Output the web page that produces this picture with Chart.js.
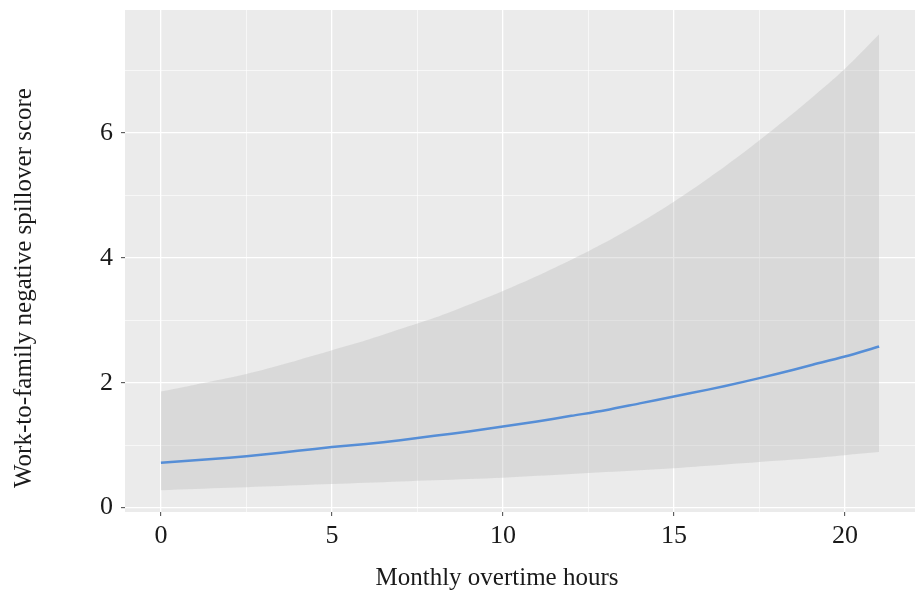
<!DOCTYPE html>
<html>
<head>
<meta charset="utf-8">
<script src="https://cdn.jsdelivr.net/npm/chart.js@4.4.1/dist/chart.umd.min.js"></script>
<style>
  html, body { margin: 0; padding: 0; background: #fff; }
  #wrap { width: 918px; height: 591px; }
</style>
</head>
<body>
<div id="wrap"><canvas id="c" width="918" height="591"></canvas></div>
<script>
// monthly overtime hours
const hours = [0, 1, 2, 3, 4, 5, 6, 7, 8, 9, 10, 11, 12, 13, 14, 15, 16, 17, 18, 19, 20, 21];
// fitted work-to-family negative spillover score
const fitted = [0.72, 0.76, 0.80, 0.85, 0.91, 0.97, 1.02, 1.08, 1.15, 1.22, 1.30, 1.38, 1.47, 1.56, 1.67, 1.78, 1.89, 2.01, 2.14, 2.28, 2.42, 2.58];
// confidence band
const upper = [1.86, 1.97, 2.08, 2.21, 2.36, 2.52, 2.68, 2.86, 3.04, 3.25, 3.47, 3.71, 3.97, 4.25, 4.56, 4.90, 5.27, 5.67, 6.10, 6.55, 7.03, 7.58];
const lower = [0.28, 0.30, 0.32, 0.34, 0.36, 0.38, 0.40, 0.42, 0.44, 0.46, 0.48, 0.51, 0.54, 0.57, 0.60, 0.63, 0.67, 0.71, 0.75, 0.79, 0.84, 0.89];

const xTicks = [0, 2.5, 5, 7.5, 10, 12.5, 15, 17.5, 20];
const xLabels = ["0", "", "5", "", "10", "", "15", "", "20"];
const yTicks = [0, 1, 2, 3, 4, 5, 6, 7];
const yLabels = ["0", "", "2", "", "4", "", "6", ""];

const xTitle = "Monthly overtime hours";
const yTitle = "Work-to-family negative spillover score";

const pts = arr => hours.map((h, i) => ({ x: h, y: arr[i] }));
const serif = "'Liberation Serif', 'DejaVu Serif', serif";

const panelBg = {
  id: "panelBg",
  beforeDraw(chart) {
    const a = chart.chartArea, ctx = chart.ctx;
    ctx.save();
    ctx.fillStyle = "#ebebeb";
    ctx.fillRect(a.left, a.top, a.right - a.left, a.bottom - a.top);
    ctx.restore();
  }
};

// axis titles, placed like the original figure (a bit off the panel centre)
const axisTitles = {
  id: "axisTitles",
  afterDraw(chart) {
    const ctx = chart.ctx;
    ctx.save();
    ctx.fillStyle = "#1a1a1a";
    ctx.font = "25px " + serif;
    ctx.textAlign = "center";
    ctx.textBaseline = "middle";
    ctx.fillText(xTitle, 497, 578);
    ctx.translate(24, 288);
    ctx.rotate(-Math.PI / 2);
    ctx.fillText(yTitle, 0, 0);
    ctx.restore();
  }
};

const isMajor = (labels, i) => labels[i] !== "";

new Chart(document.getElementById("c"), {
  type: "line",
  data: {
    datasets: [
      { data: pts(upper), borderWidth: 0, pointRadius: 0, fill: 1, backgroundColor: "rgba(180,180,180,0.32)", tension: 0.3 },
      { data: pts(lower), borderWidth: 0, pointRadius: 0, fill: false, tension: 0.3 },
      { data: pts(fitted), borderColor: "#2a7ce6", borderWidth: 2.5, pointRadius: 0, fill: false, tension: 0.3 }
    ]
  },
  options: {
    responsive: false,
    animation: false,
    layout: { padding: { top: 10, right: 3, left: 0, bottom: 0 } },
    plugins: { legend: { display: false }, tooltip: { enabled: false } },
    scales: {
      x: {
        type: "linear",
        min: -1.05,
        max: 22.05,
        border: { display: false },
        afterBuildTicks: s => { s.ticks = xTicks.map(v => ({ value: v })); },
        afterFit: s => { s.height = 79; s.paddingLeft = 0; s.paddingRight = 0; },
        ticks: {
          autoSkip: false,
          maxRotation: 0,
          padding: 5,
          color: "#1a1a1a",
          font: { family: serif, size: 26 },
          callback: (v, i) => xLabels[i]
        },
        grid: {
          color: "#ffffff",
          lineWidth: c => isMajor(xLabels, c.index) ? 1.3 : 0.6,
          tickColor: c => isMajor(xLabels, c.index) ? "#444" : "rgba(0,0,0,0)",
          tickLength: 4,
          tickWidth: 1
        }
      },
      y: {
        type: "linear",
        min: -0.07,
        max: 7.97,
        border: { display: false },
        afterBuildTicks: s => { s.ticks = yTicks.map(v => ({ value: v })); },
        afterFit: s => { s.width = 125; s.paddingTop = 0; s.paddingBottom = 0; },
        ticks: {
          autoSkip: false,
          padding: 8,
          color: "#1a1a1a",
          font: { family: serif, size: 26 },
          callback: (v, i) => yLabels[i]
        },
        grid: {
          color: "#ffffff",
          lineWidth: c => isMajor(yLabels, c.index) ? 1.3 : 0.6,
          tickColor: c => isMajor(yLabels, c.index) ? "#444" : "rgba(0,0,0,0)",
          tickLength: 4,
          tickWidth: 1
        }
      }
    }
  },
  plugins: [panelBg, axisTitles]
});
</script>
</body>
</html>
